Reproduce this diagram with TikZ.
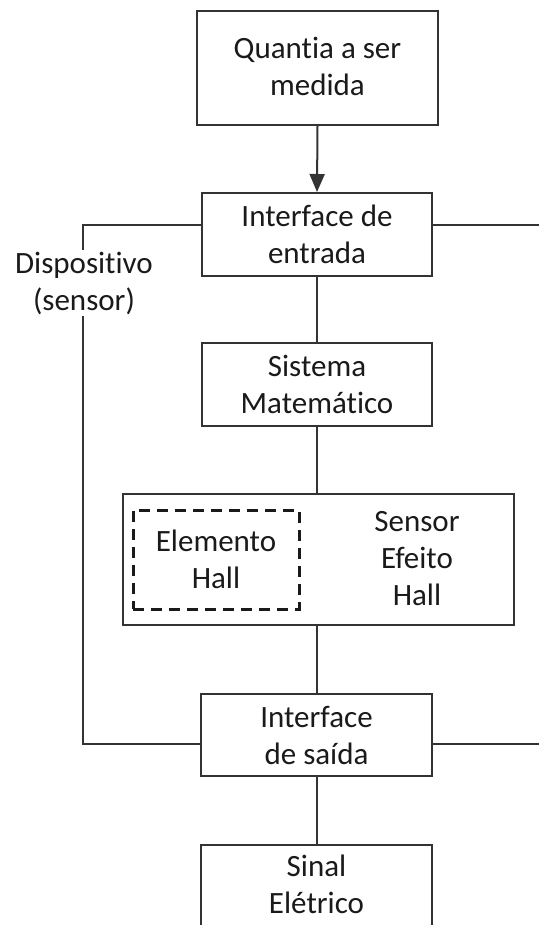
\documentclass[tikz,border=0pt]{standalone}
\usepackage{fontspec}
\setmainfont{Carlito}[RawFeature=-liga]
\usetikzlibrary{arrows.meta}
\definecolor{linegray}{HTML}{333333}
\definecolor{textblack}{HTML}{1A1A1A}
\tikzset{
  block/.style={draw=linegray, line width=2pt, fill=white, inner sep=0pt,
    align=center, text=textblack, font=\fontsize{31}{37}\selectfont},
  label/.style={inner sep=0pt, align=center, text=textblack,
    font=\fontsize{31}{37}\selectfont},
  wire/.style={draw=linegray, line width=2pt},
  dashbox/.style={draw=textblack, line width=3pt, dash pattern=on 11pt off 7pt}
}
\begin{document}
\begin{tikzpicture}[x=1pt, y=-1pt]
\useasboundingbox (0,0) rectangle (539,925);
\clip (0,0) rectangle (539,925);

% blocks of the chain
\node[block, minimum width=241pt, minimum height=114pt] (qty) at (317.5,68) {};
\node[label] (qtytxt) at (317.5,66) {Quantia a ser\\medida};
\node[block, minimum width=230pt, minimum height=83pt] (inp) at (317,234.5) {Interface de\\entrada};
\node[block, minimum width=230pt, minimum height=83pt] (math) at (317,384.5) {Sistema\\Matemático};
\node[block, minimum width=391pt, minimum height=131pt] (hall) at (318.5,559.5) {};
\node[block, minimum width=231pt, minimum height=82pt] (out) at (316.5,735) {Interface\\de saída};
\node[block, minimum width=231pt, minimum height=110pt, anchor=north] (sig) at (316.5,844) {};
\node[label] (sigtxt) at (316.5,884) {Sinal\\Elétrico};

% contents of the Hall sensor block
\node[dashbox, minimum width=166pt, minimum height=99pt] (elem) at (216,559.5) {};
\node[label] (elemtxt) at (elem.center) {Elemento\\Hall};
\node[label] (hallTxt) at (417,559) {Sensor\\Efeito\\Hall};

% vertical connectors
\draw[wire, -{Triangle[width=15pt,length=18pt]}] (qty.south) -- (inp.north);
\draw[wire] (inp.south) -- (math.north);
\draw[wire] (math.south) -- (hall.north -| math.south);
\draw[wire] (hall.south -| out.north) -- (out.north);
\draw[wire] (out.south) -- (sig.north);

% device boundary
\coordinate (tl) at (83,225);
\coordinate (bl) at (83,744);
\coordinate (tr) at (539,225);
\coordinate (br) at (539,744);
\draw[wire] (inp.west |- tl) -- (tl) -- (bl) -- (out.west |- bl);
\draw[wire] (inp.east |- tr) -- (tr);
\draw[wire] (out.east |- br) -- (br);
\node[label, fill=white, inner sep=2pt] (dev) at (84,283) {Dispositivo\\(sensor)};
\end{tikzpicture}
\end{document}
